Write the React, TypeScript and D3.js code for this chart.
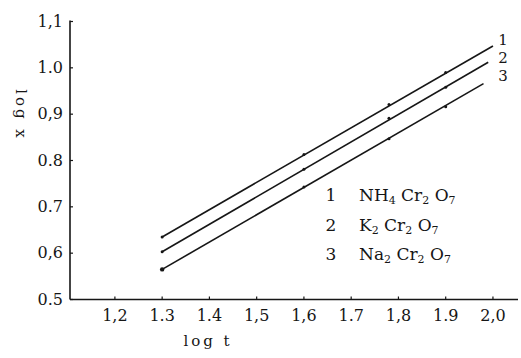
import React from "react";
import * as d3 from "d3";

// ---- data ----
const xTickValues = [1.2, 1.3, 1.4, 1.5, 1.6, 1.7, 1.8, 1.9, 2.0];
const xTickLabels = ["1,2", "1.3", "1.4", "1,5", "1,6", "1.7", "1,8", "1.9", "2,0"];
const yTickValues = [0.5, 0.6, 0.7, 0.8, 0.9, 1.0, 1.1];
const yTickLabels = ["0.5", "0,6", "0.7", "0.8", "0,9", "1.0", "1,1"];

const logT = [1.3, 1.6, 1.78, 1.9];
const series1 = [0.635, 0.813, 0.921, 0.99];
const series2 = [0.603, 0.781, 0.891, 0.958];
const series3 = [0.565, 0.743, 0.847, 0.916];
const seriesList = [series1, series2, series3];

// end of the fitted straight lines
const lineEndT = [2.0, 1.99, 1.98];
const lineEndX = [1.047, 1.012, 0.966];

const seriesNumbers = ["1", "2", "3"];
const formula1 = [["NH", "4"], [" Cr", "2"], [" O", "7"]];
const formula2 = [["K", "2"], [" Cr", "2"], [" O", "7"]];
const formula3 = [["Na", "2"], [" Cr", "2"], [" O", "7"]];
const formulas = [formula1, formula2, formula3];

const xTitle = "log t";
const yTitle = "log x";

export default function App() {
  const W = 521;
  const H = 358;
  const x = d3.scaleLinear().domain([1.105, 2.053]).range([70, 518]);
  const y = d3.scaleLinear().domain([0.5, 1.1]).range([299.5, 21.5]);
  const font = "'DejaVu Serif', 'Liberation Serif', serif";
  const ink = "#161616";
  const line = d3.line<[number, number]>().x((d) => x(d[0])).y((d) => y(d[1]));
  const x0 = x.range()[0];
  const y0 = y(0.5);

  return (
    <svg
      width={W}
      height={H}
      style={{ position: "absolute", left: 0, top: 0, background: "#fff" }}
      fontFamily={font}
    >
      <rect x={0} y={0} width={W} height={H} fill="#fff" />
      {/* axes */}
      <line x1={x0} y1={y(1.1) - 1} x2={x0} y2={y0} stroke={ink} strokeWidth={1.6} />
      <line x1={x0} y1={y0} x2={x.range()[1]} y2={y0} stroke={ink} strokeWidth={1.6} />
      {xTickValues.map((v, i) => (
        <g key={"xt" + i}>
          <line x1={x(v)} x2={x(v)} y1={y0} y2={y0 - 3} stroke={ink} strokeWidth={1.2} />
          <text x={x(v)} y={321} textAnchor="middle" fontSize={16} fill={ink}>
            {xTickLabels[i]}
          </text>
        </g>
      ))}
      {yTickValues.map((v, i) => (
        <g key={"yt" + i}>
          <line x1={x0} x2={x0 + 3} y1={y(v)} y2={y(v)} stroke={ink} strokeWidth={1.2} />
          <text x={63} y={y(v) + 5} textAnchor="end" fontSize={16} fill={ink}>
            {yTickLabels[i]}
          </text>
        </g>
      ))}
      <text x={208} y={346} textAnchor="middle" fontSize={15} letterSpacing={3} fill={ink}>
        {xTitle}
      </text>
      <text
        transform={`translate(16,115) rotate(90)`}
        textAnchor="middle"
        fontSize={15}
        letterSpacing={3}
        fill={ink}
      >
        {yTitle}
      </text>

      {/* fitted lines and measured points */}
      {seriesList.map((s, i) => (
        <g key={"s" + i}>
          <path
            d={line([
              [logT[0], s[0]],
              [lineEndT[i], lineEndX[i]],
            ]) as string}
            fill="none"
            stroke={ink}
            strokeWidth={1.6}
          />
          {logT.map((t, j) => (
            <circle key={j} cx={x(t)} cy={y(s[j])} r={j === 0 && i === 2 ? 2.2 : 1.5} fill={ink} />
          ))}
        </g>
      ))}

      {/* line numbers at the right end */}
      {seriesNumbers.map((n, i) => (
        <text key={"n" + i} x={503} y={[45, 63, 81][i]} textAnchor="middle" fontSize={15} fill={ink}>
          {n}
        </text>
      ))}

      {/* legend */}
      {formulas.map((f, i) => (
        <g key={"lg" + i}>
          <text x={331} y={201 + i * 29.5} textAnchor="middle" fontSize={17} fill={ink}>
            {seriesNumbers[i]}
          </text>
          <text x={359} y={201 + i * 29.5} fontSize={17} fill={ink}>
            {f.map((p, k) => (
              <React.Fragment key={k}>
                <tspan dy={k === 0 ? 0 : -3}>{p[0]}</tspan>
                <tspan fontSize={11} dy={3}>
                  {p[1]}
                </tspan>
              </React.Fragment>
            ))}
          </text>
        </g>
      ))}
    </svg>
  );
}
